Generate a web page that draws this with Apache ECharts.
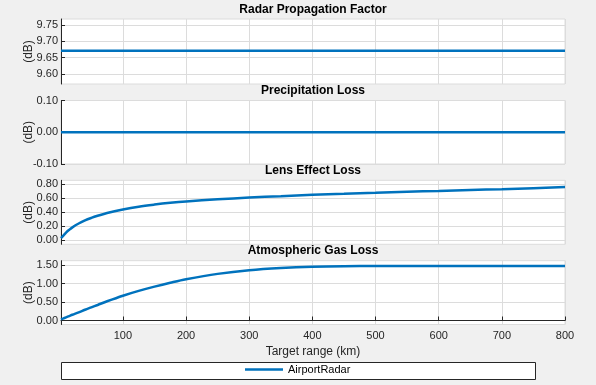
<!DOCTYPE html>
<html>
<head>
<meta charset="utf-8">
<script src="https://cdn.jsdelivr.net/npm/echarts@6/dist/echarts.min.js"></script>
<style>html,body{margin:0;padding:0;background:#f0f0f0;}#c{width:596px;height:385px;}</style>
</head>
<body>
<div id="c"></div>
<script>
// ---- data ----
var rangeKm = [2, 5, 10, 15, 20, 30, 40, 50, 60, 75, 100, 125, 150, 175, 200, 250, 300, 350, 400, 450, 500, 550, 600, 650, 700, 750, 800];
var propagationFactor = [9.671, 9.671, 9.671, 9.671, 9.671, 9.671, 9.671, 9.671, 9.671, 9.671, 9.671, 9.671, 9.671, 9.671, 9.671, 9.671, 9.671, 9.671, 9.671, 9.671, 9.671, 9.671, 9.671, 9.671, 9.671, 9.671, 9.671];
var precipitationLoss = [0, 0, 0, 0, 0, 0, 0, 0, 0, 0, 0, 0, 0, 0, 0, 0, 0, 0, 0, 0, 0, 0, 0, 0, 0, 0, 0];
var lensEffectLoss = [0.03, 0.06, 0.11, 0.15, 0.185, 0.24, 0.285, 0.32, 0.35, 0.39, 0.44, 0.48, 0.51, 0.535, 0.555, 0.585, 0.61, 0.63, 0.65, 0.665, 0.68, 0.695, 0.705, 0.72, 0.73, 0.745, 0.76];
var atmosphericGasLoss = [0.03, 0.05, 0.085, 0.12, 0.155, 0.22, 0.29, 0.355, 0.42, 0.52, 0.67, 0.80, 0.915, 1.02, 1.115, 1.26, 1.36, 1.42, 1.455, 1.468, 1.47, 1.47, 1.47, 1.47, 1.47, 1.47, 1.47];
var panelTitles = ['Radar Propagation Factor', 'Precipitation Loss', 'Lens Effect Loss', 'Atmospheric Gas Loss'];
var xTicks = [100, 200, 300, 400, 500, 600, 700, 800];
var yTicks1 = [9.60, 9.65, 9.70, 9.75];
var yTicks2 = [-0.10, 0.00, 0.10];
var yTicks3 = [0.00, 0.20, 0.40, 0.60, 0.80];
var yTicks4 = [0.00, 0.50, 1.00, 1.50];
var seriesName = 'AirportRadar';
var xName = 'Target range (km)';
var yName = '(dB)';

// ---- layout ----
var L = 61, R = 565;
var panels = [
  {top: 19, height: 65, min: 9.569, max: 9.768, ticks: yTicks1, data: propagationFactor, titleY: 10},
  {top: 100.5, height: 63.5, min: -0.1, max: 0.1, ticks: yTicks2, data: precipitationLoss, titleY: 90.5},
  {top: 180.3, height: 64, min: -0.057, max: 0.857, ticks: yTicks3, data: lensEffectLoss, titleY: 170.5},
  {top: 260.7, height: 63.8, min: -0.108, max: 1.616, ticks: yTicks4, data: atmosphericGasLoss, titleY: 251}
];
var dark = '#262626', gridC = '#dcdcdc', blue = '#0072BD';
var font = 'Arial, "Liberation Sans", Helvetica, sans-serif';

var grids = [], xAxes = [], yAxes = [], series = [], titles = [];
panels.forEach(function (p, i) {
  var last = i === panels.length - 1;
  grids.push({left: L, width: R - L, top: p.top, height: p.height, show: true,
    backgroundColor: '#fff', borderColor: gridC, borderWidth: 1, containLabel: false});
  xAxes.push({type: 'value', gridIndex: i, min: 2, max: 800,
    name: last ? xName : '', nameLocation: 'middle', nameGap: 21, nameMoveOverlap: false,
    nameTextStyle: {color: dark, fontSize: 12, fontFamily: font},
    axisLine: {show: last, lineStyle: {color: dark, width: 1}},
    axisTick: {show: last, inside: true, length: 4, customValues: xTicks, lineStyle: {color: dark}},
    axisLabel: {show: last, customValues: xTicks, color: dark, fontSize: 11, fontFamily: font, margin: 6},
    splitLine: {show: true, lineStyle: {color: gridC, width: 1}}
  });
  yAxes.push({type: 'value', gridIndex: i, min: p.min, max: p.max,
    name: yName, nameLocation: 'middle', nameGap: 26, nameMoveOverlap: false,
    nameTextStyle: {color: dark, fontSize: 12, fontFamily: font},
    axisLine: {show: true, onZero: false, lineStyle: {color: dark, width: 1}},
    axisTick: {show: true, inside: true, length: 4, customValues: p.ticks, lineStyle: {color: dark}},
    axisLabel: {customValues: p.ticks, color: dark, fontSize: 11, fontFamily: font, margin: 3,
      formatter: function (v) { return v.toFixed(2); }},
    splitLine: {show: true, lineStyle: {color: gridC, width: 1}}
  });
  series.push({type: 'line', name: seriesName, xAxisIndex: i, yAxisIndex: i,
    data: rangeKm.map(function (x, k) { return [x, p.data[k]]; }),
    smooth: 0.35, showSymbol: false, symbol: 'none',
    lineStyle: {color: blue, width: 2.5}, itemStyle: {color: blue}, animation: false});
  titles.push({text: panelTitles[i], left: (L + R) / 2, top: p.titleY, textAlign: 'center', textVerticalAlign: 'middle',
    padding: 0,
    textStyle: {fontSize: 12, fontWeight: 'bold', color: '#000', fontFamily: font}});
});

var chart = echarts.init(document.getElementById('c'), null, {renderer: 'canvas'});
chart.setOption({
  backgroundColor: '#f0f0f0',
  animation: false,
  title: titles,
  grid: grids,
  xAxis: xAxes,
  yAxis: yAxes,
  series: series,
  legend: {data: [seriesName], left: 245, top: 364, padding: 0, itemGap: 5,
    icon: 'rect', itemWidth: 38, itemHeight: 2.5,
    textStyle: {color: '#000', fontSize: 11, fontFamily: font, padding: [0, 0, 0, 0]}},
  graphic: [{type: 'rect', z: -1, silent: true, shape: {x: 61.5, y: 362.5, width: 474, height: 17},
    style: {fill: '#fff', stroke: dark, lineWidth: 1}}]
});
</script>
</body>
</html>
